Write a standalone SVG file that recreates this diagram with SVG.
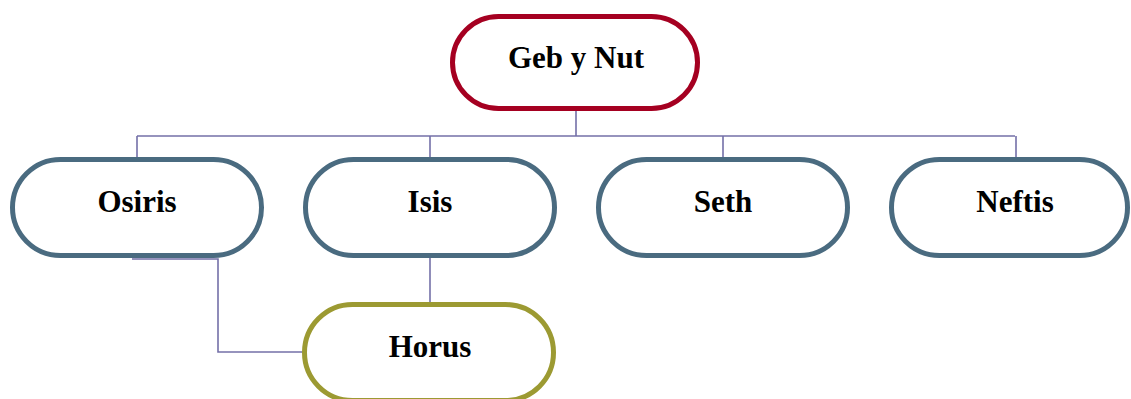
<svg xmlns="http://www.w3.org/2000/svg" width="1131" height="399" viewBox="0 0 1131 399">
<style>
.n{fill:#fff;stroke-width:5}
.r{stroke:#a50021}
.b{stroke:#4a6b80}
.o{stroke:#9c9a32}
.t{font-family:"Liberation Serif","Times New Roman",serif;font-weight:bold;font-size:31px;fill:#000;text-anchor:middle}
.c{fill:none;stroke:#7470a8;stroke-width:1.6}
</style>
<rect width="1131" height="399" fill="#fff"/>
<g id="connectors">
<path class="c" d="M576 111V136M137 136H1015M137 136V157M430 136V157M723 136V157M1016 136V157"/>
<path class="c" d="M430 258V302"/>
<path class="c" d="M132 259H218V352H303"/>
</g>
<g id="geb"><rect class="n r" x="452.5" y="16.5" width="245" height="92" rx="46"/><text class="t" x="576" y="68">Geb y Nut</text></g>
<g id="osiris"><rect class="n b" x="12.5" y="159.5" width="249" height="96" rx="48"/><text class="t" x="137" y="212">Osiris</text></g>
<g id="isis"><rect class="n b" x="305.5" y="159.5" width="249" height="96" rx="48"/><text class="t" x="430" y="212">Isis</text></g>
<g id="seth"><rect class="n b" x="598.5" y="159.5" width="249" height="96" rx="48"/><text class="t" x="723" y="212">Seth</text></g>
<g id="neftis"><rect class="n b" x="891.5" y="159.5" width="236" height="96" rx="48"/><text class="t" x="1015" y="212">Neftis</text></g>
<g id="horus"><rect class="n o" x="304.5" y="304.5" width="249" height="96" rx="48"/><text class="t" x="430" y="357">Horus</text></g>
</svg>
